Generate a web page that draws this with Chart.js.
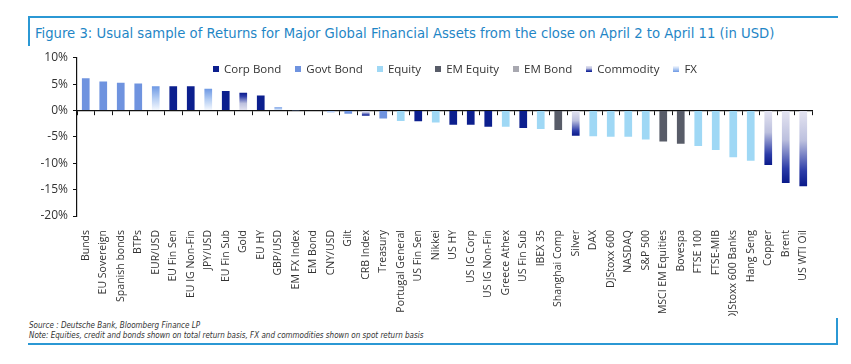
<!DOCTYPE html>
<html>
<head>
<meta charset="utf-8">
<script src="https://cdn.jsdelivr.net/npm/chart.js@4.4.1/dist/chart.umd.min.js"></script>
<style>
  body { margin: 0; background: #fff; }
  #wrap { position: relative; width: 851px; height: 364px; font-family: 'Open Sans', sans-serif; }
  .rule { position: absolute; background: #2b98d4; }
  #title { position: absolute; left: 35px; top: 24px; font-family: 'Liberation Sans Narrow', 'DejaVu Sans Condensed', sans-serif; font-stretch: condensed; font-size: 14.7px; color: #1f86c6; white-space: nowrap; }
  #chartBox { position: absolute; left: 28px; top: 45px; width: 800px; height: 271px; }
  #legend { position: absolute; left: 213px; top: 61px; display: flex; font-size: 11.5px; color: #333; white-space: nowrap; }
  #legend .item { display: flex; align-items: center; margin-right: 14px; }
  #legend .box { width: 6px; height: 6px; margin-right: 5px; }
  #notes { position: absolute; left: 29px; top: 321px; font-family: 'Liberation Sans Narrow', 'DejaVu Sans Condensed', sans-serif; font-stretch: condensed; font-style: italic; font-size: 8px; line-height: 9.5px; color: #333; }
</style>
</head>
<body>
<div id="wrap">
  <div class="rule" style="left:28px;top:16px;width:810px;height:2px"></div>
  <div class="rule" style="left:28px;top:16px;width:2px;height:30px"></div>
  <div id="title">Figure 3: Usual sample of Returns for Major Global Financial Assets from the close on April 2 to April 11 (in USD)</div>
  <div id="chartBox"><canvas id="returnsChart"></canvas></div>
  <div id="legend"></div>
  <div id="notes">Source : Deutsche Bank, Bloomberg Finance LP<br>Note: Equities, credit and bonds shown on total return basis, FX and commodities shown on spot return basis</div>
  <div class="rule" style="left:28px;top:343px;width:810px;height:2px"></div>
  <div class="rule" style="left:836px;top:318px;width:2px;height:27px"></div>
</div>
<script>
const categories = ['Bunds', 'EU Sovereign', 'Spanish bonds', 'BTPs', 'EUR/USD', 'EU Fin Sen', 'EU IG Non-Fin',
    'JPY/USD', 'EU Fin Sub', 'Gold', 'EU HY', 'GBP/USD', 'EM FX Index', 'EM Bond', 'CNY/USD', 'Gilt', 'CRB Index',
    'Treasury', 'Portugal General', 'US Fin Sen', 'Nikkei', 'US HY', 'US IG Corp', 'US IG Non-Fin', 'Greece Athex',
    'US Fin Sub', 'IBEX 35', 'Shanghai Comp', 'Silver', 'DAX', 'DJStoxx 600', 'NASDAQ', 'S&P 500', 'MSCI EM Equities',
    'Bovespa', 'FTSE 100', 'FTSE-MIB', 'DJStoxx 600 Banks', 'Hang Seng', 'Copper', 'Brent', 'US WTI Oil'];

// return in % from close Apr 2 to Apr 11
const returns = [6.1, 5.5, 5.25, 5.1, 4.6, 4.6, 4.6,
    4.1, 3.7, 3.35, 2.85, 0.6, -0.05, -0.1, -0.35, -0.6, -1.0,
    -1.5, -2.0, -2.05, -2.3, -2.7, -2.7, -3.1, -3.1,
    -3.3, -3.5, -3.7, -4.8, -4.9, -5.0, -5.0, -5.5, -5.9,
    -6.3, -6.75, -7.5, -8.85, -9.55, -10.35, -13.75, -14.35];

const assetClass = ['Govt Bond', 'Govt Bond', 'Govt Bond', 'Govt Bond', 'FX', 'Corp Bond', 'Corp Bond',
    'FX', 'Corp Bond', 'Commodity', 'Corp Bond', 'FX', 'FX', 'EM Bond', 'FX', 'Govt Bond', 'Commodity',
    'Govt Bond', 'Equity', 'Corp Bond', 'Equity', 'Corp Bond', 'Corp Bond', 'Corp Bond', 'Equity',
    'Corp Bond', 'Equity', 'EM Equity', 'Commodity', 'Equity', 'Equity', 'Equity', 'Equity', 'EM Equity',
    'EM Equity', 'Equity', 'Equity', 'Equity', 'Equity', 'Commodity', 'Commodity', 'Commodity'];

const seriesNames = ['Corp Bond', 'Govt Bond', 'Equity', 'EM Equity', 'EM Bond', 'Commodity', 'FX'];
const yTicks = [10, 5, 0, -5, -10, -15, -20];

// solid colours, gradients for commodity and FX (light at zero, dark at the tip)
const solidColours = {
    'Corp Bond': '#0c1f8e',
    'Govt Bond': '#6f93df',
    'Equity': '#9fd8f5',
    'EM Equity': '#585c68',
    'EM Bond': '#a8a8b0'
};
const gradientStops = {
    'Commodity': [[0, '#e4e4f1'], [0.4, '#bcc0de'], [0.8, '#2c3ca8'], [1, '#0a1a8a']],
    'FX': [[0, '#f6f9fe'], [0.5, '#b4cdf3'], [1, '#6d98e4']]
};

function barFill(name) {
    if (solidColours[name]) return solidColours[name];
    const stops = gradientStops[name];
    return function (ctx) {
        const chart = ctx.chart;
        const tip = stops[stops.length - 1][1];
        if (!chart.chartArea || ctx.raw == null) return tip;
        const y = chart.scales.y;
        const y0 = y.getPixelForValue(0);
        const y1 = y.getPixelForValue(ctx.raw);
        if (Math.abs(y1 - y0) < 1) return tip;
        const g = chart.ctx.createLinearGradient(0, y0, 0, y1);
        stops.forEach(s => g.addColorStop(s[0], s[1]));
        return g;
    };
}

Chart.defaults.font.family = "'Open Sans', sans-serif";
Chart.defaults.color = '#333';

const datasets = seriesNames.map(name => ({
    label: name,
    data: returns.map((v, i) => assetClass[i] === name ? v : null),
    backgroundColor: barFill(name),
    skipNull: true,
    barPercentage: 0.55,
    categoryPercentage: 0.8
}));

const ctx = document.getElementById('returnsChart').getContext('2d');
const returnsChart = new Chart(ctx, {
    type: 'bar',
    data: { labels: categories, datasets: datasets },
    options: {
        responsive: true,
        maintainAspectRatio: false,
        animation: false,
        layout: { padding: { left: 4, top: 12.7, right: 16, bottom: 0 } },
        plugins: { legend: { display: false }, tooltip: { enabled: false } },
        scales: {
            x: {
                grid: { display: false },
                border: { display: false },
                ticks: { autoSkip: false, minRotation: 90, maxRotation: 90, padding: 6, font: { size: 10.5 }, color: '#333' },
                afterFit: s => { s.height = 100; }
            },
            // second category axis only to draw the zero line with its tick marks
            x0: {
                type: 'category',
                labels: categories,
                position: { y: 0 },
                offset: true,
                z: 1,
                grid: { offset: true, drawOnChartArea: false, color: '#111', tickLength: 4 },
                border: { color: '#111', width: 1.2 },
                ticks: { display: false }
            },
            y: {
                min: -20,
                max: 10,
                afterBuildTicks: s => { s.ticks = yTicks.map(v => ({ value: v })); },
                ticks: { callback: v => v + '%', font: { size: 12 }, color: '#333', padding: 5 },
                grid: { drawOnChartArea: false, color: '#111', tickLength: 4 },
                border: { color: '#111', width: 1.2 },
                afterFit: s => { s.width = 45; }
            }
        }
    }
});

// html legend built from the datasets
const legendEl = document.getElementById('legend');
seriesNames.forEach(name => {
    const item = document.createElement('div');
    item.className = 'item';
    const box = document.createElement('span');
    box.className = 'box';
    if (solidColours[name]) {
        box.style.background = solidColours[name];
    } else {
        const st = gradientStops[name];
        box.style.background = 'linear-gradient(to bottom, ' + st.map(s => s[1] + ' ' + (s[0] * 100) + '%').join(', ') + ')';
    }
    item.appendChild(box);
    item.appendChild(document.createTextNode(name));
    legendEl.appendChild(item);
});
</script>
</body>
</html>
